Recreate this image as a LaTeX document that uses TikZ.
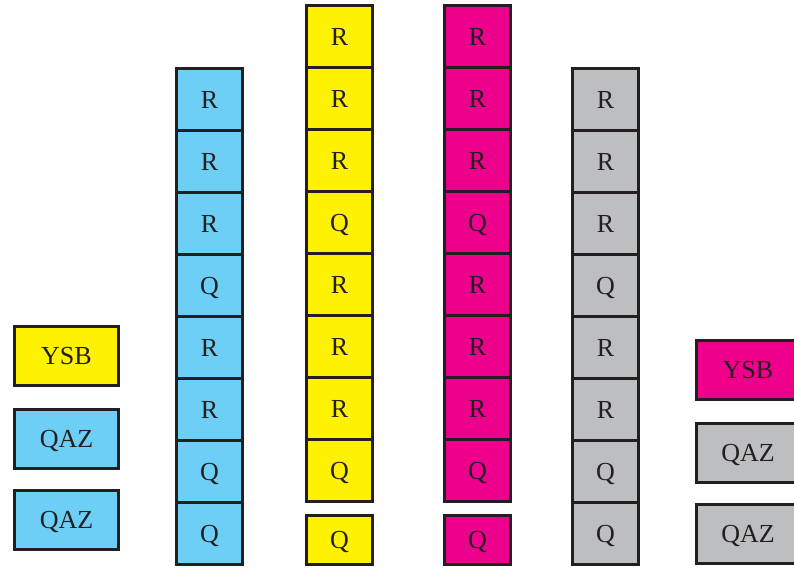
\documentclass[tikz,border=0pt]{standalone}
\usepackage{fontspec}
\setmainfont{Liberation Serif}
\definecolor{edgec}{HTML}{231F20}
\definecolor{cblue}{HTML}{6DCFF6}
\definecolor{cyel}{HTML}{FFF200}
\definecolor{cmag}{HTML}{EC008C}
\definecolor{cgray}{HTML}{BCBEC0}
\begin{document}
\begin{tikzpicture}[x=1pt,y=-1pt,
  box/.style={draw=edgec, line width=3pt, inner sep=0pt,
    font=\fontsize{26}{26}\selectfont, text=edgec, text height=17pt, text depth=0pt},
  cell/.style={box, minimum width=66pt, minimum height=62pt},
  wide/.style={box, minimum width=104pt, minimum height=59pt}]
\clip (0,0) rectangle (794,570);
% blue column
\foreach \t [count=\i] in {R,R,R,Q,R,R,Q,Q}
  \node[cell, fill=cblue] (b\i) at (209.5, {68.5+62*(\i-0.5)}) {\t};
% yellow column
\foreach \t [count=\i] in {R,R,R,Q,R,R,R,Q}
  \node[cell, fill=cyel] (y\i) at (339.5, {5.5+62*(\i-0.5)}) {\t};
\node[cell, fill=cyel, minimum height=49pt] (y9) at (339.5, 540) {Q};
% magenta column
\foreach \t [count=\i] in {R,R,R,Q,R,R,R,Q}
  \node[cell, fill=cmag] (m\i) at (477.5, {5.5+62*(\i-0.5)}) {\t};
\node[cell, fill=cmag, minimum height=49pt] (m9) at (477.5, 540) {Q};
% gray column
\foreach \t [count=\i] in {R,R,R,Q,R,R,Q,Q}
  \node[cell, fill=cgray] (g\i) at (605.5, {68.5+62*(\i-0.5)}) {\t};
% left boxes
\node[wide, fill=cyel] (ly) at (66.5, 356) {YSB};
\node[wide, fill=cblue] (lq1) at (66.5, 439) {QAZ};
\node[wide, fill=cblue] (lq2) at (66.5, 520) {QAZ};
% right boxes
\node[wide, fill=cmag, minimum width=103pt] (ry) at (748, 370) {YSB};
\node[wide, fill=cgray, minimum width=103pt] (rq1) at (748, 453) {QAZ};
\node[wide, fill=cgray, minimum width=103pt] (rq2) at (748, 534) {QAZ};
\end{tikzpicture}
\end{document}
